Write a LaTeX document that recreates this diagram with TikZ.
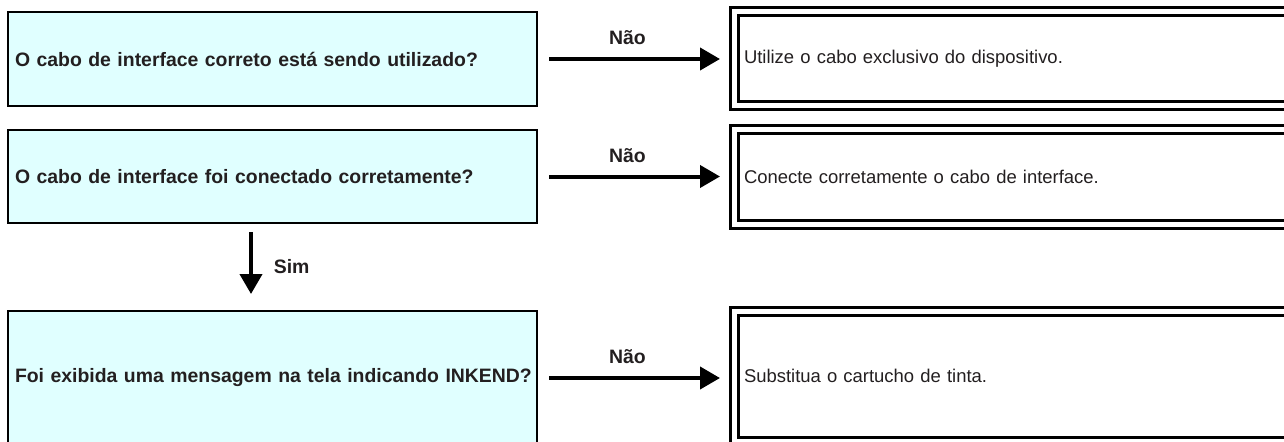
\documentclass[tikz,border=0pt]{standalone}
\usepackage{fontspec}
\setmainfont{Liberation Sans}
\usetikzlibrary{arrows.meta, positioning, calc}
\definecolor{qcyan}{HTML}{E0FFFF}
\definecolor{txtgray}{HTML}{231F20}

\begin{document}
\begin{tikzpicture}[
  >={Triangle[length=0.4cm, width=0.44cm]},
  question/.style={draw=black, fill=qcyan, line width=0.04cm, anchor=west,
                   minimum width=10.58cm, text width=10.44cm, inner xsep=0.07cm,
                   align=left, text=txtgray, font=\bfseries\fontsize{11.05}{13.3}\selectfont},
  answer/.style={draw=black, double=white, double distance=0.1cm, line width=0.06cm,
                 fill=white, anchor=west, minimum width=13cm, text width=12.6cm,
                 inner xsep=0.19cm, align=left, text=txtgray, font=\fontsize{10.5}{12.6}\selectfont},
  flow/.style={line width=0.08cm, ->},
  lbl/.style={text=txtgray, font=\bfseries\fontsize{11.05}{13.3}\selectfont},
]

% Frame of the page
\path[use as bounding box, clip] (0,0) rectangle (25.68,8.82);

% Questions
\node[question, minimum height=1.88cm] (q1) at (0.14,7.64) {\hspace{0.07cm}O cabo de interface correto está sendo utilizado?};
\node[question, minimum height=1.86cm] (q2) at (0.14,5.29) {\hspace{0.07cm}O cabo de interface foi conectado corretamente?};
\node[question, minimum height=2.68cm] (q3) at (0.14,1.26) {\hspace{0.07cm}Foi exibida uma mensagem na tela indicando INKEND?};

% Answers
\node[answer, minimum height=1.89cm] (a1) at (14.65,7.655) {Utilize o cabo exclusivo do dispositivo.};
\node[answer, minimum height=1.89cm] (a2) at (14.65,5.285) {Conecte corretamente o cabo de interface.};
\node[answer, minimum height=2.61cm] (a3) at (14.65,1.295) {Substitua o cartucho de tinta.};

% No branches
\draw[flow, shorten <=0.22cm, shorten >=0.25cm] (q1.east) -- node[lbl, above=0.12cm, pos=0.46] {Não} (q1.east -| a1.west);
\draw[flow, shorten <=0.22cm, shorten >=0.25cm] (q2.east) -- node[lbl, above=0.12cm, pos=0.46] {Não} (q2.east -| a2.west);
\draw[flow, shorten <=0.22cm, shorten >=0.25cm] (q3.east) -- node[lbl, above=0.12cm, pos=0.46] {Não} (q3.east -| a3.west);

% Yes branch
\draw[flow, shorten <=0.16cm, shorten >=0.32cm] ([xshift=-0.43cm]q2.south) -- node[lbl, right=0.3cm] {Sim} ([xshift=-0.43cm]q3.north);

\end{tikzpicture}
\end{document}
